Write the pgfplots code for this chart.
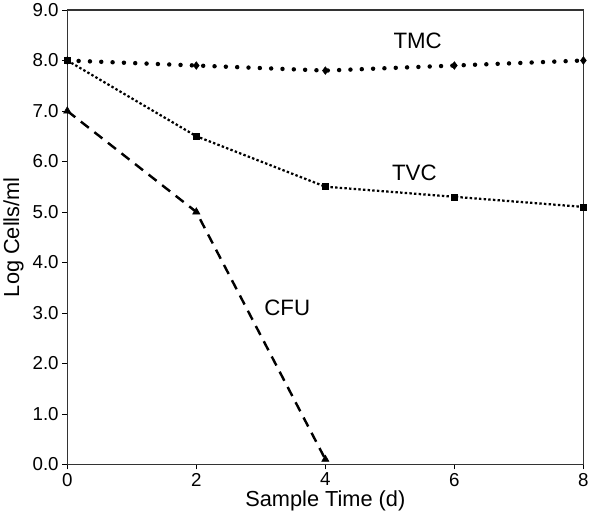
\documentclass[border=0pt]{standalone}
\usepackage{pgfplots}
\pgfplotsset{compat=1.18}
\usepackage{fontspec}
\setmainfont{Liberation Sans}
\begin{document}
\begin{tikzpicture}[font=\fontsize{22}{26}\selectfont]
\begin{axis}[
    scale only axis,
    width=510pt, height=449pt,
    xmin=0, xmax=8, ymin=0, ymax=9,
    xtick={0,2,4,6,8},
    ytick={0,1,...,9},
    yticklabel style={/pgf/number format/.cd, fixed, fixed zerofill, precision=1},
    /pgf/number format/assume math mode=true,
    tick label style={font=\fontsize{18.5}{21}\selectfont},
    label style={font=\fontsize{21.5}{25}\selectfont},
    tick align=outside,
    tick pos=left,
    major tick length=5pt,
    axis line style={line width=1pt, black!80},
    tick style={line width=0.8pt, black},
    xlabel={Sample Time (d)},
    ylabel={Log Cells/ml},
    xlabel style={yshift=2pt},
    ylabel style={yshift=2pt},
    clip=false,
]
\addplot[black, line width=4.4pt, dash pattern=on 0pt off 11.2pt, line cap=round,
    mark=diamond*, mark size=3.8pt, mark options={solid, line width=0.5pt}]
    coordinates {(0,8.0) (2,7.9) (4,7.8) (6,7.9) (8,8.0)};
\addplot[black, line width=2.2pt, dash pattern=on 2.4pt off 2.2pt,
    mark=square*, mark size=3pt, mark options={solid, line width=0.5pt}]
    coordinates {(0,8.0) (2,6.5) (4,5.5) (6,5.3) (8,5.1)};
\addplot[black, line width=2.4pt, dash pattern=on 10pt off 7pt,
    mark=triangle*, mark size=4.2pt, mark options={solid, line width=0.5pt}]
    coordinates {(0,7.0) (2,5.0) (4,0.1)};
\node at (axis cs:5.43,8.38) {TMC};
\node at (axis cs:5.38,5.77) {TVC};
\node at (axis cs:3.41,3.11) {CFU};
\end{axis}
\end{tikzpicture}
\end{document}
